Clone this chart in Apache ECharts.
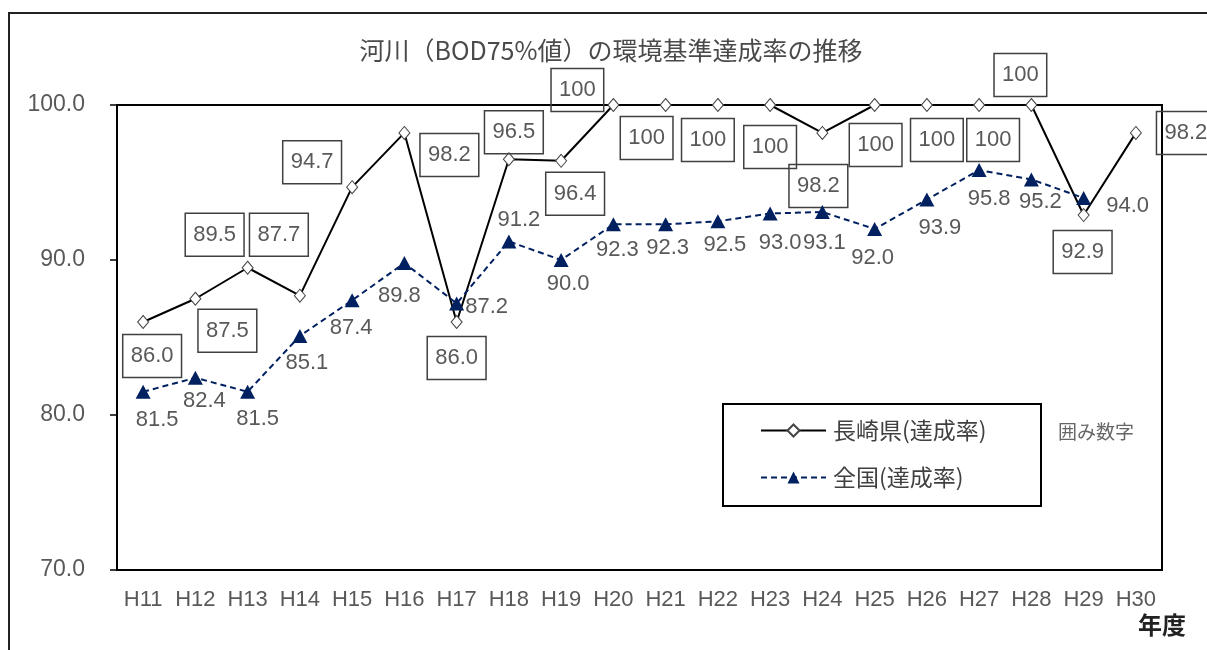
<!DOCTYPE html>
<html>
<head>
<meta charset="utf-8">
<script src="https://cdn.jsdelivr.net/npm/echarts@6/dist/echarts.min.js"></script>
<style>
html,body{margin:0;padding:0;background:#fff;}
#chart{width:1207px;height:650px;}
</style>
</head>
<body>
<div id="chart"></div>
<script>
const years = ['H11','H12','H13','H14','H15','H16','H17','H18','H19','H20','H21','H22','H23','H24','H25','H26','H27','H28','H29','H30'];
const nagasaki = [86.0, 87.5, 89.5, 87.7, 94.7, 98.2, 86.0, 96.5, 96.4, 100, 100, 100, 100, 98.2, 100, 100, 100, 100, 92.9, 98.2];
const national = [81.5, 82.4, 81.5, 85.1, 87.4, 89.8, 87.2, 91.2, 90.0, 92.3, 92.3, 92.5, 93.0, 93.1, 92.0, 93.9, 95.8, 95.2, 94.0, null];
const yTicks = [70, 80, 90, 100];
const seriesNames = ['長崎県(達成率)', '全国(達成率)'];
const titleText = '河川（BOD75%値）の環境基準達成率の推移';

// label placement (pixel offsets from each point), styling only
const nagasakiLabelOffsets = [[9,34],[32,32],[-33,-33],[-21,-61],[-40,-25],[45,22],[0,36],[5,-27],[14,33],[-36,-15],
  [-19,33],[-10,35],[0,42],[-4,53],[1,40],[10,35],[14,35],[-11,-30],[-1,37],[50,0]];
const nationalLabelOffsets = [[14,28],[9,23],[10,27],[7,27],[-1,28],[-5,33],[30,4],[10,-21],[7,24],[4,26],
  [2,24],[7,24],[10,29],[2,31],[-2,29],[13,28],[10,29],[9,23],[44,8],[0,0]];

const numFont = '"Liberation Sans", Arial, sans-serif';
const jpFont = '"Noto Sans CJK JP", sans-serif';

const fmt = v => (v === 100 ? '100' : v.toFixed(1));

const nagasakiData = nagasaki.map((v, i) => ({
  value: v,
  label: { offset: nagasakiLabelOffsets[i] }
}));
const nationalData = national.map((v, i) => ({
  value: v,
  label: { offset: nationalLabelOffsets[i] }
}));

const chart = echarts.init(document.getElementById('chart'), null, { renderer: 'canvas' });
chart.setOption({
  animation: false,
  backgroundColor: '#fff',
  grid: { left: 117, right: 45, top: 105, bottom: 80, show: true, borderColor: '#000', borderWidth: 2 },
  xAxis: {
    type: 'category',
    data: years,
    boundaryGap: true,
    axisLine: { lineStyle: { color: '#000', width: 2 } },
    axisTick: { inside: true, length: 7, lineStyle: { color: '#000', width: 1.5 } },
    axisLabel: { interval: 0, fontSize: 22, color: '#595959', fontFamily: numFont, margin: 19 }
  },
  yAxis: {
    type: 'value',
    min: yTicks[0],
    max: yTicks[yTicks.length - 1],
    interval: 10,
    splitLine: { show: false },
    axisLine: { show: true, lineStyle: { color: '#000', width: 2 } },
    axisTick: { show: true, length: 7, lineStyle: { color: '#000', width: 1.5 } },
    axisLabel: { fontSize: 23, color: '#595959', fontFamily: numFont, margin: 32, formatter: v => v.toFixed(1) }
  },
  legend: {
    orient: 'vertical',
    left: 760,
    top: 419,
    padding: 0,
    itemGap: 24,
    itemWidth: 65,
    itemHeight: 15,
    data: seriesNames,
    textStyle: { fontSize: 23, color: '#404040', fontFamily: jpFont, padding: [0, 0, 0, 2] }
  },
  graphic: [
    { type: 'rect', shape: { x: 9, y: 13, width: 1300, height: 700 }, style: { fill: 'none', stroke: '#222', lineWidth: 2 }, silent: true },
    { type: 'rect', shape: { x: 723, y: 404, width: 318, height: 102 }, style: { fill: 'none', stroke: '#000', lineWidth: 2 }, silent: true },
    { type: 'text', x: 611, y: 50, style: { text: titleText, font: '25px ' + jpFont, fill: '#4a4a4a', textAlign: 'center', textVerticalAlign: 'middle' } },
    { type: 'text', x: 1058, y: 432, style: { text: '囲み数字', font: '19px ' + jpFont, fill: '#666', textAlign: 'left', textVerticalAlign: 'middle' } },
    { type: 'text', x: 1162, y: 625, style: { text: '年度', font: 'bold 24px ' + jpFont, fill: '#222', textAlign: 'center', textVerticalAlign: 'middle' } }
  ],
  series: [
    {
      name: seriesNames[0],
      type: 'line',
      data: nagasakiData,
      clip: false,
      z: 2,
      symbol: 'diamond',
      symbolSize: [11, 13],
      itemStyle: { color: '#fff', borderColor: '#444', borderWidth: 1 },
      lineStyle: { color: '#000', width: 2 },
      label: {
        show: true,
        position: 'inside',
        formatter: p => fmt(p.value),
        fontSize: 22,
        fontFamily: numFont,
        color: '#595959',
        borderColor: '#404040',
        borderWidth: 1.5,
        padding: [11, 8, 10, 8],
        lineHeight: 22
      }
    },
    {
      name: seriesNames[1],
      type: 'line',
      data: nationalData,
      clip: false,
      z: 3,
      symbol: 'triangle',
      symbolSize: [15, 14],
      itemStyle: { color: '#002060', borderColor: '#002060', borderWidth: 0 },
      lineStyle: { color: '#002060', width: 2, type: [6, 4] },
      label: {
        show: true,
        position: 'inside',
        formatter: p => fmt(p.value),
        fontSize: 22,
        fontFamily: numFont,
        color: '#595959'
      }
    }
  ]
});
</script>
</body>
</html>
